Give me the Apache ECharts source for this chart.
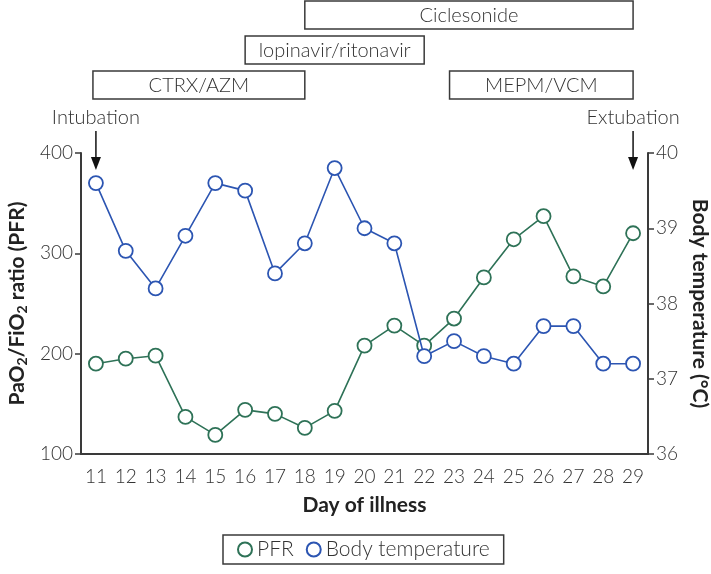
<!DOCTYPE html>
<html>
<head>
<meta charset="utf-8">
<script src="https://cdn.jsdelivr.net/npm/echarts@6/dist/echarts.min.js"></script>
<style>
html,body{margin:0;padding:0;background:#fff;}
#chart{width:711px;height:574px;}
</style>
</head>
<body>
<div id="chart"></div>
<script>
// ---- data ----
const days = ['11','12','13','14','15','16','17','18','19','20','21','22','23','24','25','26','27','28','29'];
const pfr = [190,195,198,137,119,144,140,126,143,208,228,208,235,276,314,337,277,267,320];
const bodyTemp = [39.6,38.7,38.2,38.9,39.6,39.5,38.4,38.8,39.8,39.0,38.8,37.3,37.5,37.3,37.2,37.7,37.7,37.2,37.2];
const pfrTicks = [100,200,300,400];
const tempTicks = [36,37,38,39,40];
const treatNames = ['Ciclesonide','lopinavir/ritonavir','CTRX/AZM','MEPM/VCM'];
const treatStartDay = [18, 16, 10.9, 22.85];
const treatEndDay = [29, 22, 18, 29];
const treatRow = [0, 1, 2, 2];
const eventNames = ['Intubation','Extubation'];
const eventDay = [11, 29];

const GREEN = '#2e7257';
const BLUE = '#2c55b2';
const DARK = '#3a3a3a';
const FONT = 'Lato';

const chart = echarts.init(document.getElementById('chart'));
const option = {
  animation: false,
  backgroundColor: '#fff',
  grid: {left: 81, right: 63, top: 153, bottom: 120, containLabel: false, outerBoundsMode: 'none'},
  legend: {
    bottom: 10,
    left: 223,
    borderColor: DARK,
    borderWidth: 1.5,
    padding: [4, 14, 4, 14],
    itemGap: 12,
    itemWidth: 14,
    itemHeight: 14,
    textStyle: {fontFamily: FONT, fontSize: 21, color: '#333', fontWeight: 300},
    data: [
      {name: 'PFR', icon: 'circle', itemStyle: {color: '#fff', borderColor: GREEN, borderWidth: 2}},
      {name: 'Body temperature', icon: 'circle', itemStyle: {color: '#fff', borderColor: BLUE, borderWidth: 2}}
    ]
  },
  xAxis: {
    type: 'category',
    data: days,
    boundaryGap: true,
    name: 'Day of illness',
    nameLocation: 'middle',
    nameGap: 41,
    nameTextStyle: {fontFamily: FONT, fontSize: 21, fontWeight: 'bold', color: '#222'},
    axisLine: {lineStyle: {color: DARK, width: 2}},
    axisTick: {show: false},
    axisLabel: {margin: 13, fontFamily: FONT, fontSize: 19, fontWeight: 300, color: '#333', interval: 0}
  },
  yAxis: [
    {
      type: 'value', min: pfrTicks[0], max: pfrTicks[pfrTicks.length-1], interval: 100,
      name: 'PaO{sub|2}/FiO{sub|2} ratio (PFR)',
      nameLocation: 'middle', nameRotate: 90, nameGap: 51,
      nameTextStyle: {fontFamily: FONT, fontSize: 21, fontWeight: 'bold', color: '#222', lineHeight: 23,
        rich: {sub: {fontFamily: FONT, fontSize: 14, fontWeight: 'bold', color: '#222', lineHeight: 14, verticalAlign: 'bottom', padding: [9,0,0,0]}}},
      axisLine: {show: true, lineStyle: {color: DARK, width: 2}},
      axisTick: {show: true, length: 6, lineStyle: {color: DARK, width: 1.5}},
      axisLabel: {margin: 8, fontFamily: FONT, fontSize: 19, fontWeight: 300, color: '#333'},
      splitLine: {show: false}
    },
    {
      type: 'value', min: tempTicks[0], max: tempTicks[tempTicks.length-1], interval: 1,
      name: 'Body temperature (°C)',
      nameLocation: 'middle', nameRotate: -90, nameGap: 39,
      nameTextStyle: {fontFamily: FONT, fontSize: 21, fontWeight: 'bold', color: '#222'},
      axisLine: {show: true, lineStyle: {color: DARK, width: 2}},
      axisTick: {show: true, length: 6, lineStyle: {color: DARK, width: 1.5}},
      axisLabel: {margin: 8, fontFamily: FONT, fontSize: 19, fontWeight: 300, color: '#333'},
      splitLine: {show: false}
    }
  ],
  series: [
    {
      name: 'PFR', type: 'line', yAxisIndex: 0, data: pfr,
      symbol: 'circle', symbolSize: 14,
      lineStyle: {color: GREEN, width: 1.6},
      itemStyle: {color: '#fff', borderColor: GREEN, borderWidth: 1.8},
      z: 2
    },
    {
      name: 'Body temperature', type: 'line', yAxisIndex: 1, data: bodyTemp,
      symbol: 'circle', symbolSize: 14,
      lineStyle: {color: BLUE, width: 1.6},
      itemStyle: {color: '#fff', borderColor: BLUE, borderWidth: 1.8},
      z: 3
    }
  ]
};
chart.setOption(option);

// ---- annotations positioned through the category axis ----
const x0 = chart.convertToPixel({xAxisIndex: 0}, 0);
const x1 = chart.convertToPixel({xAxisIndex: 0}, 1);
const step = x1 - x0;
const dayToX = d => x0 + (d - Number(days[0])) * step;
const rowTop = [1, 36, 71];
const rowH = 28;
const graphics = [];
treatNames.forEach((n, i) => {
  const xa = dayToX(treatStartDay[i]);
  const xb = dayToX(treatEndDay[i]);
  const y = rowTop[treatRow[i]];
  graphics.push({
    type: 'rect', shape: {x: xa, y: y, width: xb - xa, height: rowH},
    style: {fill: '#fff', stroke: DARK, lineWidth: 1.5}
  });
  graphics.push({
    type: 'text', x: (xa + xb) / 2, y: y + rowH / 2 + 1,
    style: {text: n, fill: '#333', font: '300 20px ' + FONT, align: 'center', verticalAlign: 'middle'}
  });
});
eventNames.forEach((n, i) => {
  const x = dayToX(eventDay[i]);
  graphics.push({
    type: 'text', x: x, y: 118,
    style: {text: n, fill: '#333', font: '300 20px ' + FONT, align: 'center', verticalAlign: 'middle'}
  });
  graphics.push({
    type: 'line', shape: {x1: x, y1: 131, x2: x, y2: 160},
    style: {stroke: '#111', lineWidth: 1.5}
  });
  graphics.push({
    type: 'polygon', shape: {points: [[x - 5, 157], [x + 5, 157], [x, 170]]},
    style: {fill: '#111'}
  });
});
chart.setOption({graphic: graphics});
</script>
</body>
</html>
